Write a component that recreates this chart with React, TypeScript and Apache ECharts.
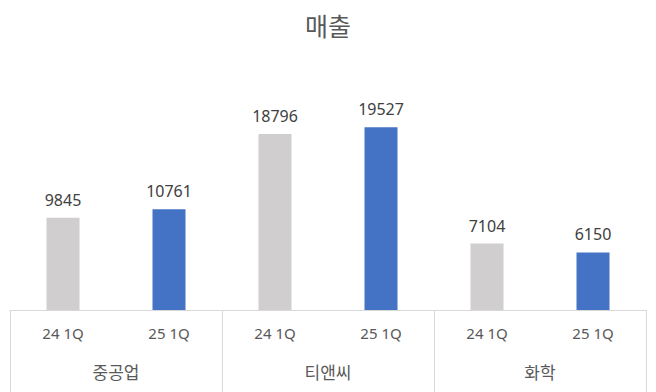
import React, { useEffect, useRef } from "react";
import * as echarts from "echarts";

const groups = ["중공업", "티앤씨", "화학"];
const periods = ["24 1Q", "25 1Q"];
const sales = [9845, 10761, 18796, 19527, 7104, 6150];
const periodColors = ["#d0cece", "#4472c4"];

export default function App() {
  const ref = useRef<HTMLDivElement>(null);
  useEffect(() => {
    if (!ref.current) return;
    const chart = echarts.init(ref.current, null, { renderer: "svg" });
    const font = "'Noto Sans', 'Noto Sans CJK KR', sans-serif";
    const cjk = "'Noto Sans CJK KR', 'Noto Sans', sans-serif";
    const cats: string[] = [];
    groups.forEach(() => periods.forEach((p) => cats.push(p)));
    const data = sales.map((v, i) => ({
      value: v,
      itemStyle: { color: periodColors[i % periods.length] },
    }));
    chart.setOption({
      animation: false,
      title: {
        text: "매출",
        left: "center",
        top: 7,
        textStyle: { fontFamily: cjk, fontSize: 25, fontWeight: "normal", color: "#595959" },
      },
      grid: { left: 10, right: 10, top: 76, bottom: 82 },
      xAxis: [
        {
          type: "category",
          data: cats,
          axisLine: { show: true, lineStyle: { color: "#d9d9d9", width: 1 } },
          axisTick: { show: false },
          axisLabel: { interval: 0, margin: 15, fontFamily: font, fontSize: 15, color: "#595959" },
        },
        {
          type: "category",
          data: groups,
          position: "bottom",
          axisLine: { show: false },
          axisTick: { show: true, length: 82, lineStyle: { color: "#d9d9d9", width: 1 } },
          axisLabel: { interval: 0, margin: 53, fontFamily: cjk, fontSize: 17, color: "#595959" },
        },
      ],
      yAxis: { type: "value", min: 0, max: 25000, show: false, splitLine: { show: false } },
      series: [
        {
          type: "bar",
          xAxisIndex: 0,
          data,
          barWidth: 33,
          label: {
            show: true,
            position: "top",
            distance: 10,
            fontFamily: font,
            fontSize: 16,
            color: "#404040",
          },
        },
      ],
    });
    return () => chart.dispose();
  }, []);
  return <div ref={ref} style={{ width: 656, height: 392, position: "absolute", left: 0, top: 0 }} />;
}
